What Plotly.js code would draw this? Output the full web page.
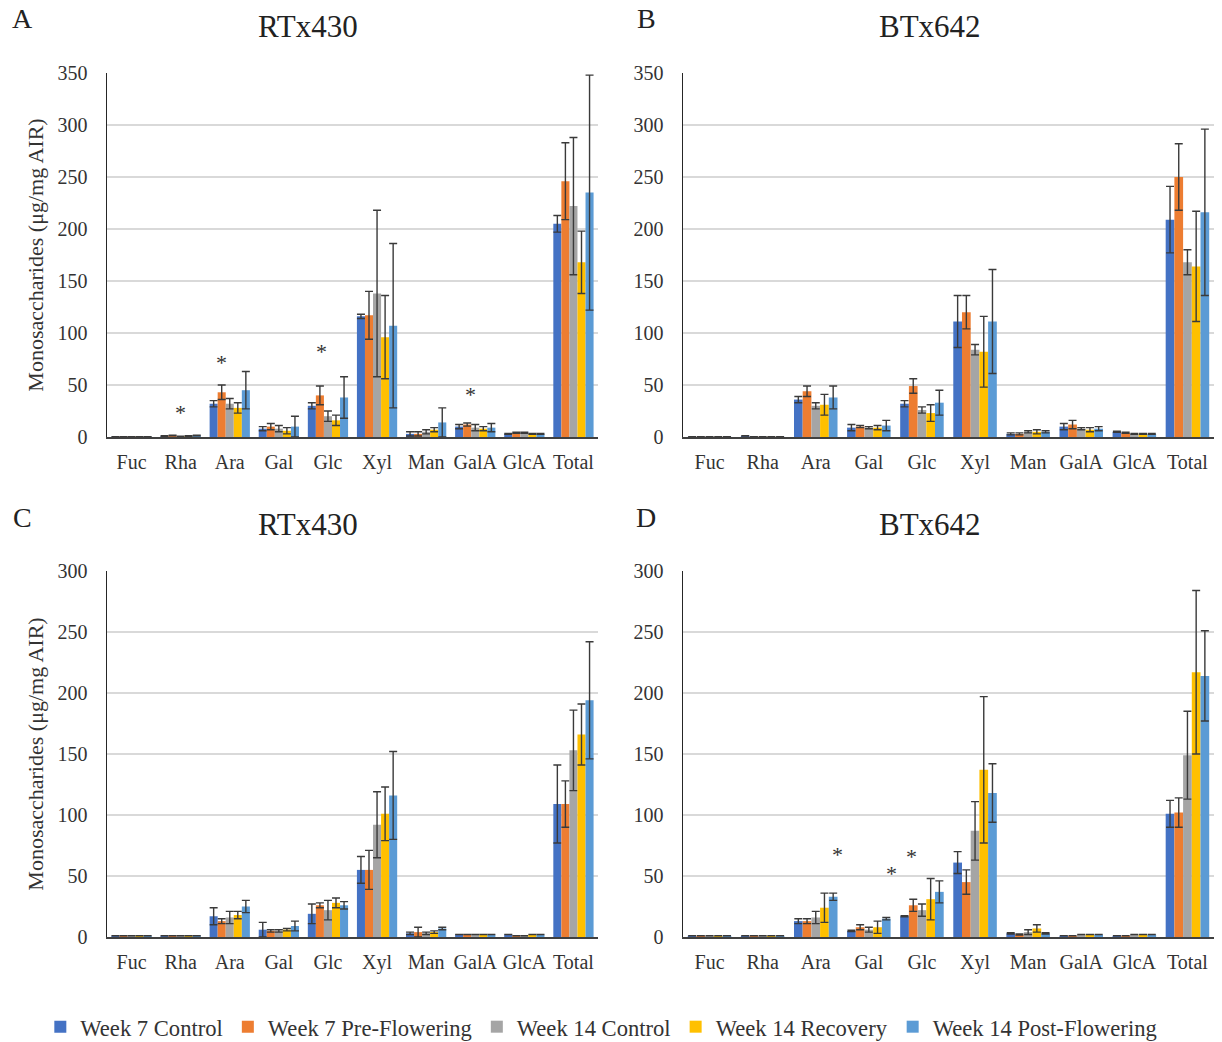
<!DOCTYPE html>
<html>
<head>
<meta charset="utf-8">
<script src="https://cdn.plot.ly/plotly-3.0.1.min.js"></script>
<style>html,body{margin:0;padding:0;background:#fff;}#chart{width:1222px;height:1042px;}</style>
</head>
<body>
<div id="chart"></div>
<script>
const categories = ['Fuc','Rha','Ara','Gal','Glc','Xyl','Man','GalA','GlcA','Total'];
const seriesNames = ['Week 7 Control','Week 7 Pre-Flowering','Week 14 Control','Week 14 Recovery','Week 14 Post-Flowering'];
const seriesColors = ['#4472C4','#ED7D31','#A5A5A5','#FFC000','#5B9BD5'];

// Panel A: RTx430 (rows = series, columns = categories)
const A_means = [
  [0.3, 1.0, 32, 8, 30, 116, 3, 10, 3, 205],
  [0.3, 1.5, 43, 10, 40, 117, 3, 12, 4, 246],
  [0.3, 0.5, 32, 8, 20, 138, 5, 9, 4, 222],
  [0.3, 1.0, 28, 6, 16, 96, 7, 8, 3, 168],
  [0.3, 1.5, 45, 10, 38, 107, 14, 9, 3, 235]
];
const A_errs = [
  [0, 0.3, 3, 2, 3, 2, 2, 2, 0.5, 8],
  [0, 0.3, 7, 3, 9, 23, 2, 1.5, 0.5, 37],
  [0, 0.2, 5, 3, 5, 80, 2, 3, 0.5, 66],
  [0, 0.3, 5, 3, 5, 40, 2, 2, 0.5, 30],
  [0, 0.3, 18, 10, 20, 79, 14, 4, 0.5, 113]
];
// Panel B: BTx642
const B_means = [
  [0.2, 1.0, 36, 9, 32, 111, 3, 10, 5, 209],
  [0.2, 0.3, 44, 10, 49, 120, 3, 12, 4, 250],
  [0.2, 0.2, 30, 9, 26, 84, 5, 8, 3, 168],
  [0.2, 0.2, 31, 9, 23, 82, 5, 7, 3, 164],
  [0.2, 0.2, 38, 11, 33, 111, 5, 8, 3, 216]
];
const B_errs = [
  [0, 0.2, 3, 3, 3, 25, 1, 3, 0.5, 32],
  [0, 0, 5, 1, 7, 16, 1, 4, 0.5, 32],
  [0, 0, 3, 1, 3, 5, 1, 1, 0.5, 12],
  [0, 0, 10, 2, 8, 34, 2, 2, 0.5, 53],
  [0, 0, 11, 5, 12, 50, 1, 2, 0.5, 80]
];
// Panel C: RTx430
const C_means = [
  [1, 1, 17, 6, 19, 55, 3, 2, 2, 109],
  [1, 1, 13, 5, 26, 55, 4, 2, 1, 109],
  [1, 1, 16, 5, 22, 92, 3, 2, 1, 153],
  [1, 1, 18, 6, 28, 101, 4, 2, 2, 166],
  [1, 1, 25, 9, 26, 116, 7, 2, 2, 194]
];
const C_errs = [
  [0, 0, 7, 6, 8, 11, 1, 0, 0, 32],
  [0, 0, 2, 1, 2, 16, 4, 0, 0, 19],
  [0, 0, 5, 1, 8, 27, 1, 0, 0, 33],
  [0, 0, 3, 1, 4, 22, 1, 0, 0, 25],
  [0, 0, 5, 4, 3, 36, 1, 0, 0, 48]
];
// Panel D: BTx642
const D_means = [
  [1, 1, 13, 5, 17, 61, 3, 1, 1, 101],
  [1, 1, 13, 8, 26, 45, 2, 1, 1, 102],
  [1, 1, 16, 6, 22, 87, 4, 2, 2, 149],
  [1, 1, 24, 8, 31, 137, 7, 2, 2, 217],
  [1, 1, 33, 15, 37, 118, 3, 2, 2, 214]
];
const D_errs = [
  [0, 0, 2, 0.5, 0.5, 9, 0.5, 0, 0, 11],
  [0, 0, 2, 2, 5, 10, 0.5, 0, 0, 12],
  [0, 0, 5, 2, 5, 24, 2, 0, 0, 36],
  [0, 0, 12, 5, 17, 60, 3, 0, 0, 67],
  [0, 0, 3, 1, 9, 24, 0.5, 0, 0, 37]
];

// significance asterisks: category, value height, pixel shift
const A_starCats = ['Rha','Ara','Glc','GalA'];
const A_starY = [24, 72, 82, 41];
const A_starShift = [0, -8, -6, -5];
const D_starCats = ['Ara','Gal','Glc'];
const D_starY = [68, 52, 66];
const D_starShift = [22, 23, -10];

const panelTitles = ['RTx430','BTx642','RTx430','BTx642'];
const panelLetters = ['A','B','C','D'];
const yTitle = 'Monosaccharides (μg/mg AIR)';

const FONT = 'Liberation Serif, Times New Roman, serif';
const W = 1222, H = 1042;
// plot boxes in pixels [left, right, top, bottom]
const boxes = [[107,598,73,437],[683,1214,73,437],[107,598,571,937],[683,1214,571,937]];

const panels = [[A_means,A_errs],[B_means,B_errs],[C_means,C_errs],[D_means,D_errs]];
const traces = [];
panels.forEach((p, pi) => {
  const [means, errs] = p;
  for (let s = 0; s < 5; s++) {
    traces.push({
      type: 'bar',
      x: categories,
      y: means[s],
      name: seriesNames[s],
      legendgroup: seriesNames[s],
      showlegend: pi === 0,
      marker: {color: seriesColors[s], line: {width: 0}},
      error_y: {type: 'data', array: errs[s], visible: true, color: '#3a3a3a', thickness: 1.4, width: 4},
      xaxis: pi === 0 ? 'x' : 'x' + (pi + 1),
      yaxis: pi === 0 ? 'y' : 'y' + (pi + 1),
      hoverinfo: 'x+y+name'
    });
  }
});

const layout = {
  width: W, height: H,
  margin: {l: 0, r: 0, t: 0, b: 0, autoexpand: false},
  paper_bgcolor: '#fff', plot_bgcolor: '#fff',
  barmode: 'group',
  bargap: 0.18,
  bargroupgap: 0,
  font: {family: FONT, color: '#333', size: 16},
  showlegend: true,
  legend: {
    orientation: 'h', x: 0.033, xanchor: 'left', y: 1 - 1027 / H, yanchor: 'middle',
    font: {family: FONT, size: 22.6, color: '#333'}, traceorder: 'normal',
    itemwidth: 30, tracegroupgap: 0
  },
  annotations: []
};

boxes.forEach((b, i) => {
  const sfx = i === 0 ? '' : String(i + 1);
  const yMax = i < 2 ? 350 : 300;
  layout['xaxis' + sfx] = {
    domain: [b[0] / W, b[1] / W],
    anchor: 'y' + sfx,
    type: 'category',
    showgrid: false,
    showline: true, linecolor: '#404040', linewidth: 1.5,
    ticks: '', tickfont: {family: FONT, size: 20, color: '#333'},
    ticklabelstandoff: 6,
    fixedrange: true, zeroline: false, automargin: false
  };
  layout['yaxis' + sfx] = {
    domain: [1 - b[3] / H, 1 - b[2] / H],
    anchor: 'x' + sfx,
    range: [0, yMax], dtick: 50,
    showgrid: true, gridcolor: '#d9d9d9', gridwidth: 1.2,
    showline: true, linecolor: '#262626', linewidth: 1.5,
    zeroline: false,
    ticks: '', tickfont: {family: FONT, size: 20, color: '#333'},
    ticklabelstandoff: 14,
    fixedrange: true, automargin: false
  };
  if (i === 0 || i === 2) {
    layout['yaxis' + sfx].title = {text: yTitle, font: {family: FONT, size: 22, color: '#333'}, standoff: 8};
  }
  layout.annotations.push({
    text: panelTitles[i], xref: 'paper', yref: 'paper',
    x: (i % 2 === 0 ? 308 : 930) / W, y: 1 - (i < 2 ? 26 : 524) / H,
    xanchor: 'center', yanchor: 'middle', showarrow: false,
    font: {family: FONT, size: 31, color: '#222'}
  });
  layout.annotations.push({
    text: panelLetters[i], xref: 'paper', yref: 'paper',
    x: (i % 2 === 0 ? 22 : 646) / W, y: 1 - (i < 2 ? 18 : 517) / H,
    xanchor: 'center', yanchor: 'middle', showarrow: false,
    font: {family: FONT, size: 28, color: '#222'}
  });
});

A_starCats.forEach((c, k) => {
  layout.annotations.push({text: '*', x: c, y: A_starY[k], xref: 'x', yref: 'y', xshift: A_starShift[k],
    showarrow: false, yanchor: 'middle', font: {family: FONT, size: 22, color: '#333'}});
});
D_starCats.forEach((c, k) => {
  layout.annotations.push({text: '*', x: c, y: D_starY[k], xref: 'x4', yref: 'y4', xshift: D_starShift[k],
    showarrow: false, yanchor: 'middle', font: {family: FONT, size: 22, color: '#333'}});
});

Plotly.newPlot('chart', traces, layout, {displayModeBar: false, staticPlot: true});
</script>
</body>
</html>
